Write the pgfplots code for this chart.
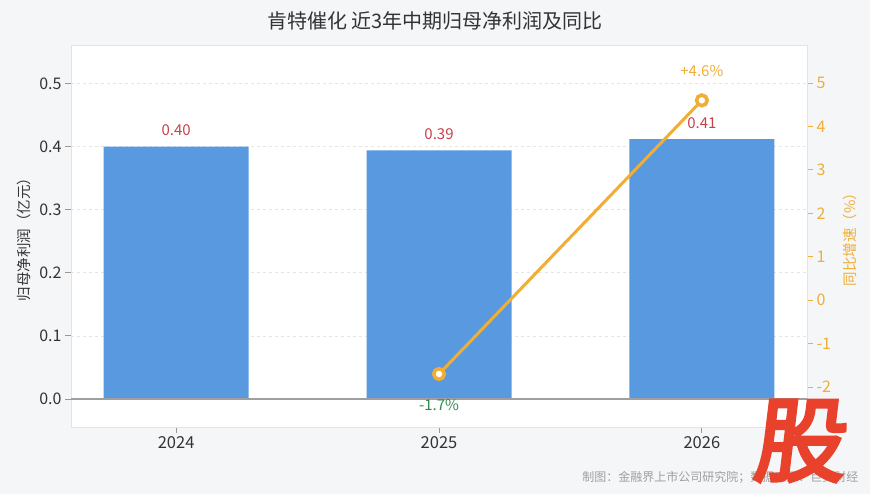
\documentclass[border=0pt]{standalone}
\usepackage{pgfplots}
\pgfplotsset{compat=1.18}
\usepackage{fontspec}
\setmainfont{Noto Sans CJK SC}
\newfontfamily\cjkheavy[FakeBold=4]{Noto Sans CJK SC}
\definecolor{bgc}{HTML}{F5F6F8}
\definecolor{barc}{HTML}{5899E0}
\definecolor{linec}{HTML}{F0AE35}
\definecolor{redl}{HTML}{C8424E}
\definecolor{greenl}{HTML}{2E8B4F}
\definecolor{txt}{HTML}{333333}
\definecolor{borderc}{HTML}{E2E4E8}
\definecolor{logoc}{HTML}{E8412C}
\begin{document}
\begin{tikzpicture}
\fill[bgc] (0,0) rectangle (870pt,494pt);
\useasboundingbox (0,0) rectangle (870pt,494pt);
\node[text=txt, font=\fontsize{20}{22}\selectfont] at (435pt,473pt) {肯特催化 近3年中期归母净利润及同比};
\begin{axis}[
  at={(71pt,67pt)}, anchor=south west,
  scale only axis, width=736pt, height=382pt,
  xmin=-0.4, xmax=2.4, ymin=-0.0444, ymax=0.561,
  axis background/.style={fill=white},
  axis line style={draw=borderc},
  xtick={0,1,2}, xticklabels={2024,2025,2026},
  xtick pos=bottom, ytick pos=left,
  tick align=outside, major tick length=6pt,
  tick style={color=gray!80, line width=0.8pt},
  ytick={0,0.1,0.2,0.3,0.4,0.5},
  yticklabel style={/pgf/number format/fixed, /pgf/number format/fixed zerofill, /pgf/number format/precision=1},
  /pgf/number format/assume math mode=true,
  ticklabel style={text=txt, font=\fontsize{16}{18}\selectfont},
  xticklabel style={font=\fontsize{16.5}{18}\selectfont},
  ymajorgrids, grid style={dashed, color=gray!20, line width=0.6pt},
  ylabel={归母净利润（亿元）},
  ylabel style={at={(axis description cs:-0.0639,0.5)}, anchor=center, text=txt, font=\fontsize{14.5}{16}\selectfont},
  ybar, bar width=145pt,
  nodes near coords, point meta=explicit symbolic,
  every node near coord/.append style={text=redl, font=\fontsize{15}{17}\selectfont, yshift=7pt},
]
\addplot[fill=barc, draw=none] coordinates {(0,0.400) [0.40] (1,0.394) [0.39] (2,0.412) [0.41]};
\draw[color=gray!75, line width=1.2pt] (axis cs:-0.4,0) -- (axis cs:2.4,0);
\end{axis}
\begin{axis}[
  at={(71pt,67pt)}, anchor=south west,
  scale only axis, width=736pt, height=382pt,
  xmin=-0.4, xmax=2.4, ymin=-2.92, ymax=5.875,
  axis x line=none, axis y line*=right,
  y axis line style={draw=borderc, -},
  ytick={-2,-1,0,1,2,3,4,5},
  tick align=outside, major tick length=6pt,
  tick style={color=linec, line width=0.8pt},
  /pgf/number format/assume math mode=true,
  yticklabel style={text=linec, font=\fontsize{16}{18}\selectfont},
  ylabel={同比增速（\%）},
  ylabel style={at={(axis description cs:1.0584,0.5)}, anchor=center, text=linec, font=\fontsize{14.5}{16}\selectfont},
]
\addplot[color=linec, line width=3pt, mark=*, mark size=5.3pt, mark options={fill=white, draw=linec, line width=3.6pt}] coordinates {(1,-1.7) (2,4.6)};
\node[text=linec, font=\fontsize{15}{17}\selectfont] at (axis cs:2,4.6) [yshift=29pt] {+4.6\%};
\node[text=greenl, font=\fontsize{15}{17}\selectfont] at (axis cs:1,-1.7) [yshift=-31pt] {-1.7\%};
\end{axis}
\node[text=gray!75, font=\fontsize{12}{14}\selectfont, anchor=east] at (862pt,17pt) {制图：金融界上市公司研究院；数据来源：巨灵财经};
\node[text=logoc, font=\cjkheavy\fontsize{92}{92}\selectfont, xslant=0.12] at (802pt,53pt) {股};
\end{tikzpicture}
\end{document}
